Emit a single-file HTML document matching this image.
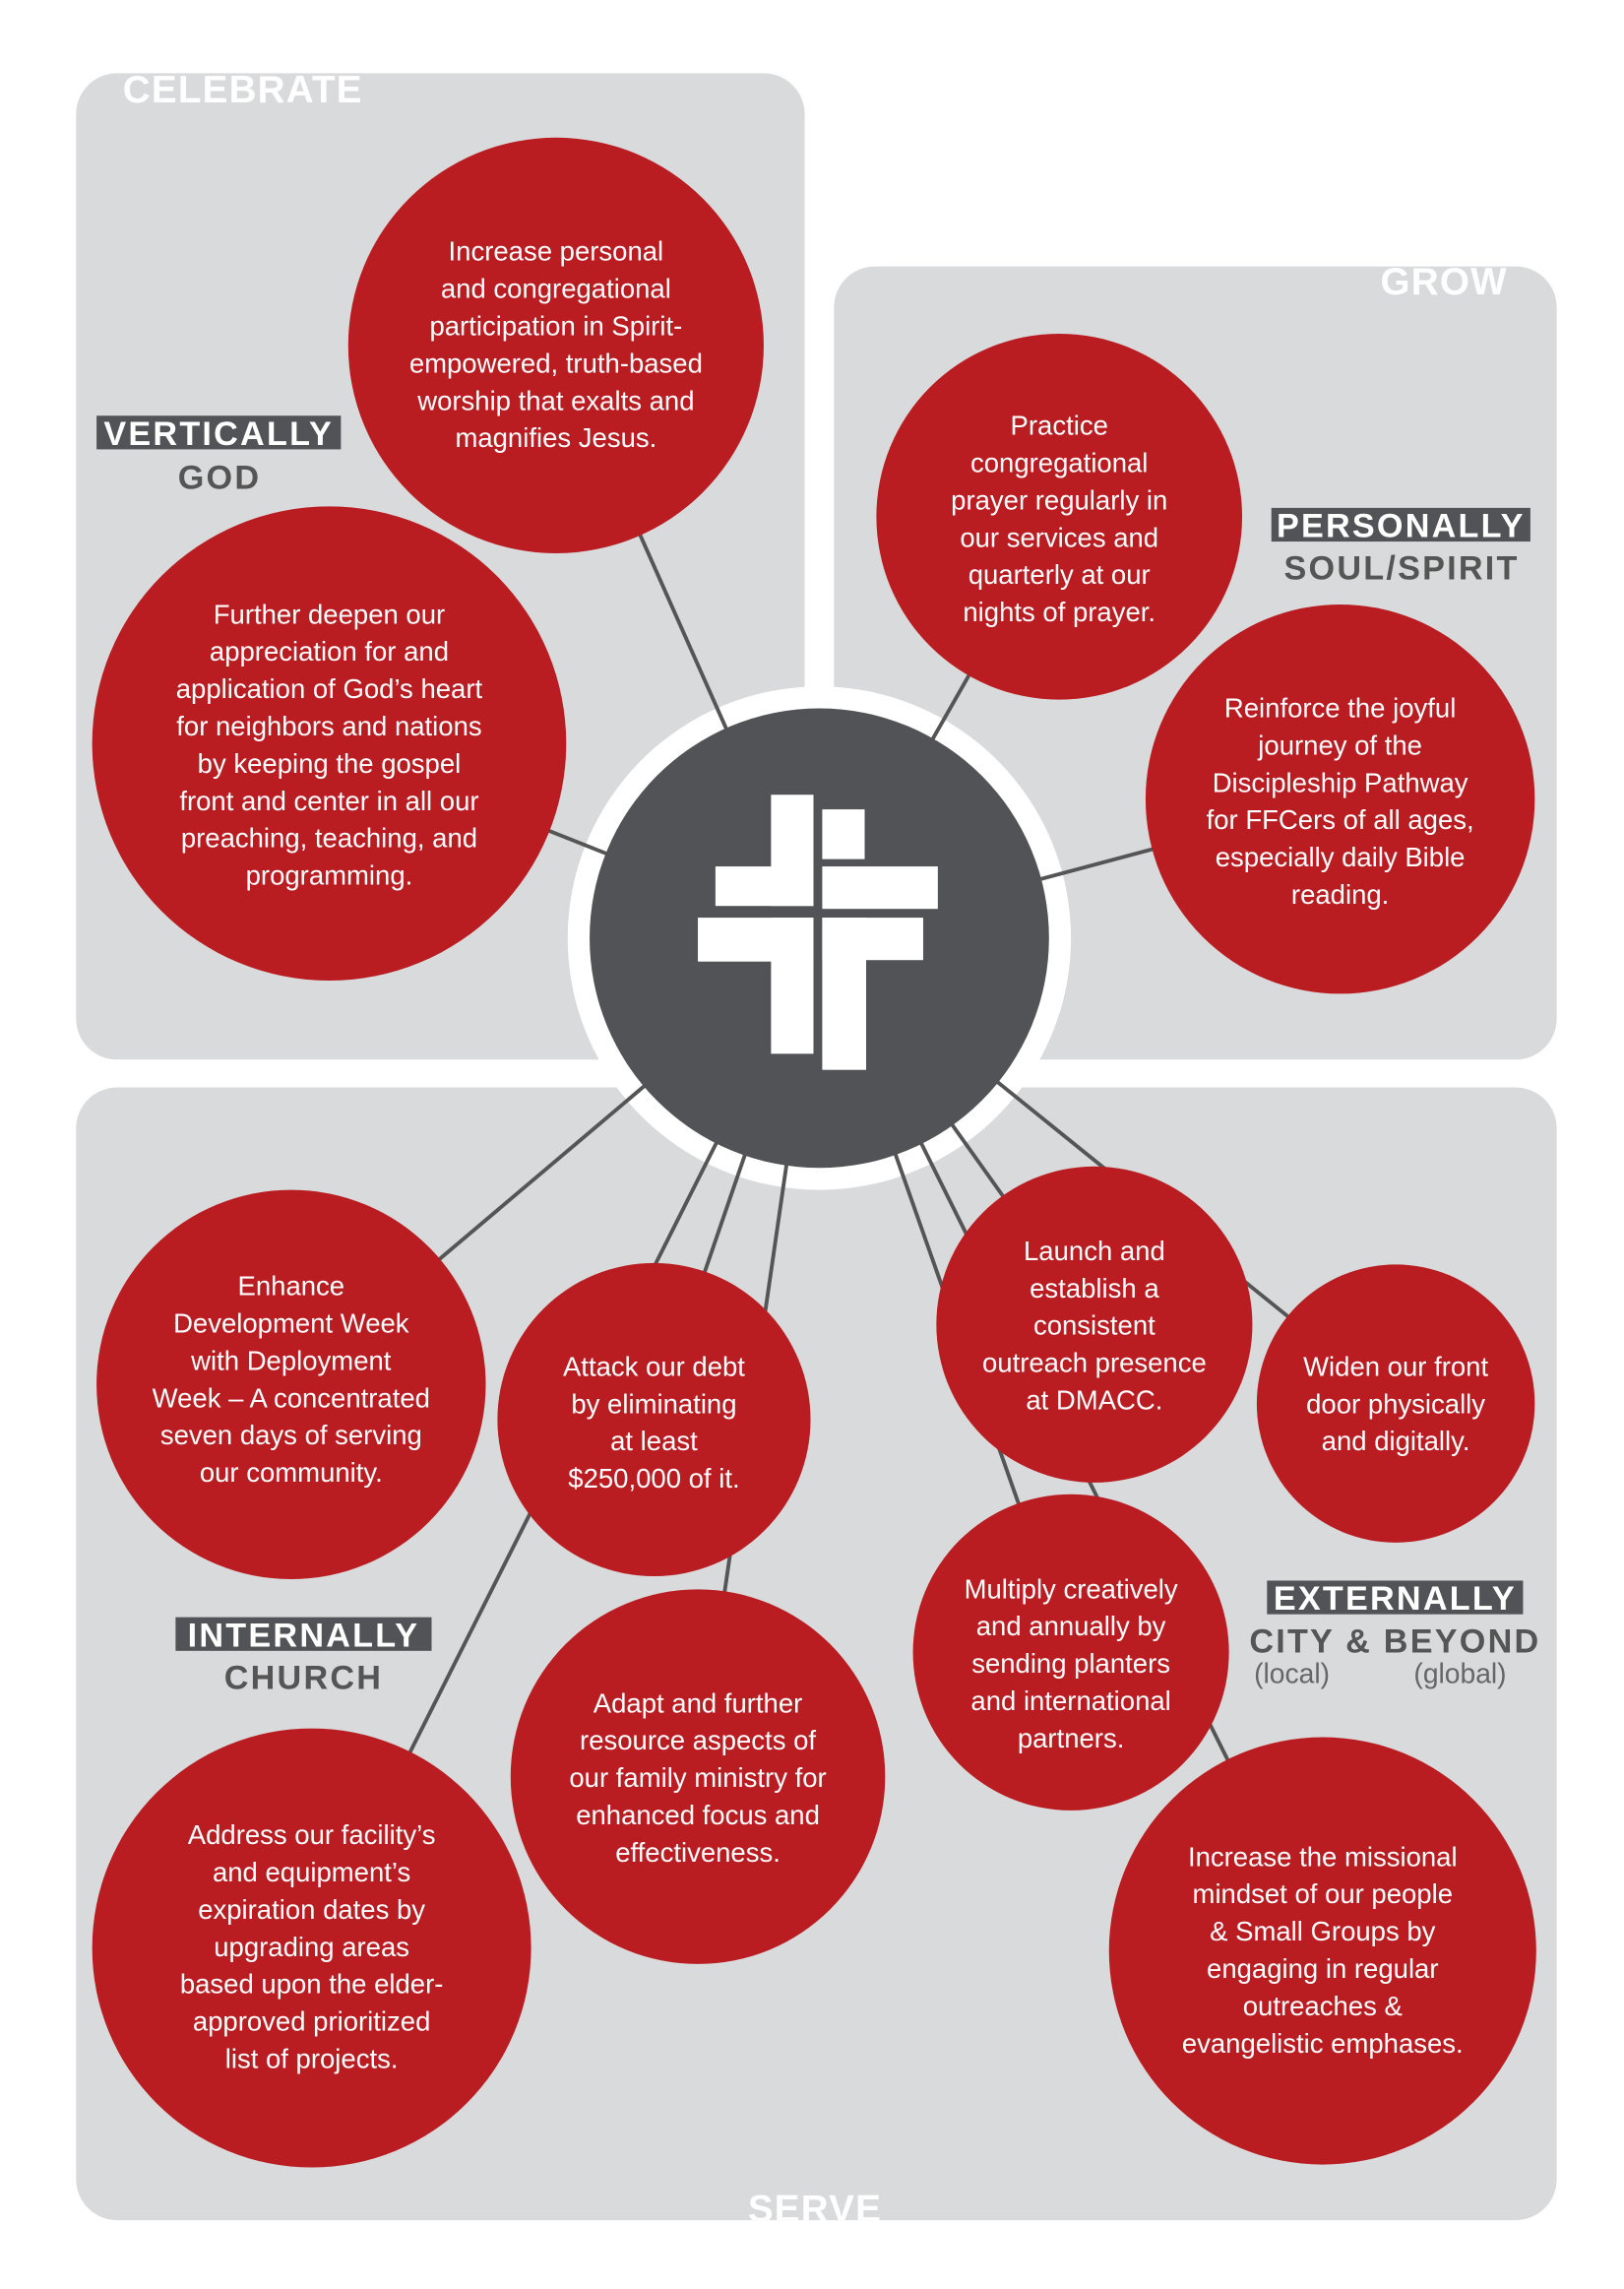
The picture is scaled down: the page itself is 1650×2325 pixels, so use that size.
<!DOCTYPE html>
<html><head><meta charset="utf-8"><style>
html,body{margin:0;padding:0;background:#fff;}
svg{display:block;}
.t{font-family:"Liberation Sans",sans-serif;font-size:18.5px;fill:#fff;text-anchor:middle;}
.h{font-family:"Liberation Sans",sans-serif;font-weight:bold;font-size:23px;letter-spacing:1.5px;text-anchor:middle;}
.big{font-family:"Liberation Sans",sans-serif;font-weight:bold;font-size:26px;letter-spacing:0.8px;fill:#fff;text-anchor:middle;}
.s{font-family:"Liberation Sans",sans-serif;font-size:19px;fill:#666;text-anchor:middle;}
</style></head><body>
<svg width="1650" height="2325" viewBox="0 0 1110 1564" xmlns="http://www.w3.org/2000/svg">
<defs>
<clipPath id="c1"><rect x="52" y="50" width="498" height="674" rx="28"/></clipPath>
<clipPath id="c2"><rect x="570" y="182" width="494" height="542" rx="28"/></clipPath>
<clipPath id="c3"><rect x="52" y="743" width="1012" height="774" rx="28"/></clipPath>
</defs>
<rect x="52" y="50" width="498" height="674" rx="28" fill="#d9dadb"/>
<rect x="570" y="182" width="494" height="542" rx="28" fill="#d9dadb"/>
<rect x="52" y="743" width="1012" height="774" rx="28" fill="#d9dadb"/>
<text class="big" x="166" y="70" clip-path="url(#c1)">CELEBRATE</text>
<text class="big" x="987" y="201" clip-path="url(#c2)">GROW</text>
<text class="big" x="557" y="1518" clip-path="url(#c3)">SERVE</text>

<circle cx="560" cy="641" r="172" fill="#fff"/>
<g stroke="#555" stroke-width="2.6">
<line x1="560" y1="641" x2="380" y2="236"/>
<line x1="560" y1="641" x2="225" y2="508"/>
<line x1="560" y1="641" x2="724" y2="353"/>
<line x1="560" y1="641" x2="916" y2="546"/>
<line x1="560" y1="641" x2="199" y2="946"/>
<line x1="560" y1="641" x2="447" y2="970"/>
<line x1="560" y1="641" x2="477" y2="1214"/>
<line x1="560" y1="641" x2="213" y2="1331"/>
<line x1="560" y1="641" x2="748" y2="905"/>
<line x1="560" y1="641" x2="954" y2="959"/>
<line x1="560" y1="641" x2="732" y2="1129"/>
<line x1="560" y1="641" x2="904" y2="1333"/>
</g>
<circle cx="560" cy="641" r="157" fill="#525356"/>
<g fill="#fff">
<rect x="527" y="543" width="29" height="76"/>
<rect x="489" y="592" width="67" height="27"/>
<rect x="562" y="553" width="29" height="34"/>
<rect x="562" y="592" width="79" height="29"/>
<rect x="477" y="627" width="79" height="30"/>
<rect x="527" y="627" width="29" height="93"/>
<rect x="562" y="627" width="69" height="29"/>
<rect x="562" y="627" width="30" height="104"/>
</g>

<g fill="#b91c21">
<circle cx="380" cy="236" r="142"/>
<circle cx="225" cy="508" r="162"/>
<circle cx="724" cy="353" r="125"/>
<circle cx="916" cy="546" r="133"/>
<circle cx="199" cy="946" r="133"/>
<circle cx="447" cy="970" r="107"/>
<circle cx="748" cy="905" r="108"/>
<circle cx="954" cy="959" r="95"/>
<circle cx="732" cy="1129" r="108"/>
<circle cx="477" cy="1214" r="128"/>
<circle cx="213" cy="1331" r="150"/>
<circle cx="904" cy="1333" r="146"/>
</g>

<g class="t">
<text x="380" y="178">Increase personal</text><text x="380" y="203.5">and congregational</text><text x="380" y="229">participation in Spirit-</text><text x="380" y="254.5">empowered, truth-based</text><text x="380" y="280">worship that exalts and</text><text x="380" y="305.5">magnifies Jesus.</text>

<text x="225" y="426">Further deepen our</text><text x="225" y="451.5">appreciation for and</text><text x="225" y="477">application of God’s heart</text><text x="225" y="502.5">for neighbors and nations</text><text x="225" y="528">by keeping the gospel</text><text x="225" y="553.5">front and center in all our</text><text x="225" y="579">preaching, teaching, and</text><text x="225" y="604.5">programming.</text>

<text x="724" y="297">Practice</text><text x="724" y="322.5">congregational</text><text x="724" y="348">prayer regularly in</text><text x="724" y="373.5">our services and</text><text x="724" y="399">quarterly at our</text><text x="724" y="424.5">nights of prayer.</text>

<text x="916" y="490">Reinforce the joyful</text><text x="916" y="515.5">journey of the</text><text x="916" y="541">Discipleship Pathway</text><text x="916" y="566.5">for FFCers of all ages,</text><text x="916" y="592">especially daily Bible</text><text x="916" y="617.5">reading.</text>

<text x="199" y="885">Enhance</text><text x="199" y="910.5">Development Week</text><text x="199" y="936">with Deployment</text><text x="199" y="961.5">Week – A concentrated</text><text x="199" y="987">seven days of serving</text><text x="199" y="1012.5">our community.</text>

<text x="447" y="940">Attack our debt</text><text x="447" y="965.5">by eliminating</text><text x="447" y="991">at least</text><text x="447" y="1016.5">$250,000 of it.</text>

<text x="748" y="861">Launch and</text><text x="748" y="886.5">establish a</text><text x="748" y="912">consistent</text><text x="748" y="937.5">outreach presence</text><text x="748" y="963">at DMACC.</text>

<text x="954" y="940">Widen our front</text><text x="954" y="965.5">door physically</text><text x="954" y="991">and digitally.</text>

<text x="732" y="1092">Multiply creatively</text><text x="732" y="1117.5">and annually by</text><text x="732" y="1143">sending planters</text><text x="732" y="1168.5">and international</text><text x="732" y="1194">partners.</text>

<text x="477" y="1170">Adapt and further</text><text x="477" y="1195.5">resource aspects of</text><text x="477" y="1221">our family ministry for</text><text x="477" y="1246.5">enhanced focus and</text><text x="477" y="1272">effectiveness.</text>

<text x="213" y="1260">Address our facility’s</text><text x="213" y="1285.5">and equipment’s</text><text x="213" y="1311">expiration dates by</text><text x="213" y="1336.5">upgrading areas</text><text x="213" y="1362">based upon the elder-</text><text x="213" y="1387.5">approved prioritized</text><text x="213" y="1413">list of projects.</text>

<text x="904" y="1275">Increase the missional</text><text x="904" y="1300.5">mindset of our people</text><text x="904" y="1326">&amp; Small Groups by</text><text x="904" y="1351.5">engaging in regular</text><text x="904" y="1377">outreaches &amp;</text><text x="904" y="1402.5">evangelistic emphases.</text>
</g>

<rect x="66" y="284" width="167" height="23" fill="#525356"/>
<text class="h" x="149.5" y="304" fill="#fff">VERTICALLY</text>
<text class="h" x="150" y="334" fill="#555">GOD</text>

<rect x="869" y="347" width="177" height="23" fill="#525356"/>
<text class="h" x="957.5" y="367" fill="#fff">PERSONALLY</text>
<text class="h" x="958" y="396" fill="#555">SOUL/SPIRIT</text>

<rect x="120" y="1105" width="175" height="23" fill="#525356"/>
<text class="h" x="207.5" y="1125" fill="#fff">INTERNALLY</text>
<text class="h" x="207.5" y="1154" fill="#555">CHURCH</text>

<rect x="866" y="1080" width="175" height="23" fill="#525356"/>
<text class="h" x="953.5" y="1100" fill="#fff">EXTERNALLY</text>
<text class="h" x="953.5" y="1129" fill="#555">CITY &amp; BEYOND</text>
<text class="s" x="883" y="1150">(local)</text>
<text class="s" x="998" y="1150">(global)</text>
</svg>
</body></html>
